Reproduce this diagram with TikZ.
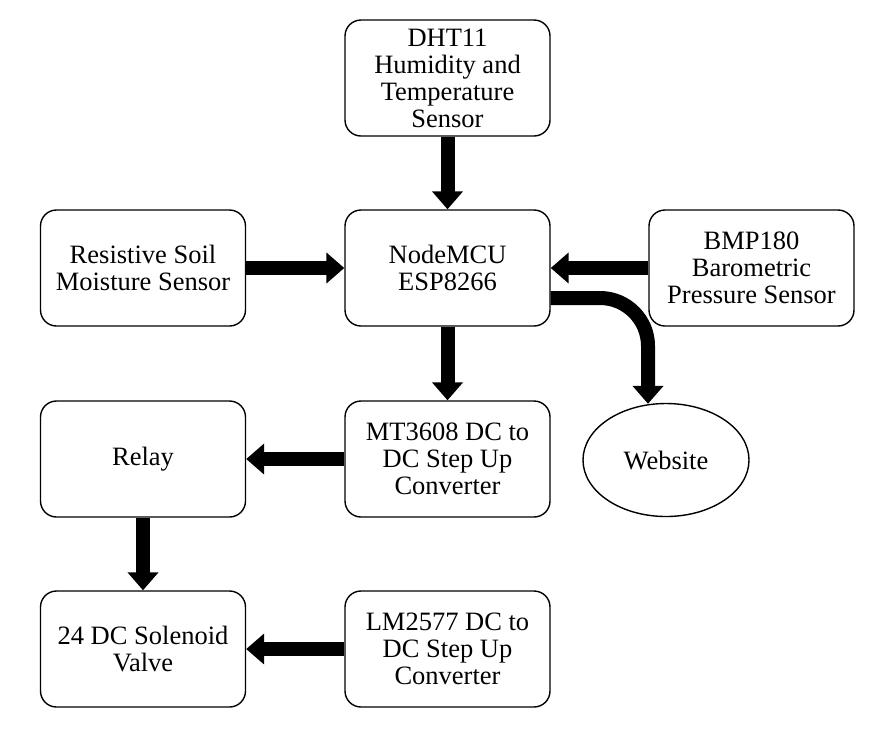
\documentclass[tikz,border=0pt]{standalone}
\usepackage{fontspec}
\setmainfont{Liberation Serif}
\usetikzlibrary{arrows.meta,shapes.geometric}
\begin{document}
\begin{tikzpicture}[x=1pt,y=-1pt,
  blk/.style={draw,line width=1.4pt,rounded corners=16pt,minimum width=205pt,minimum height=116pt,inner sep=0pt,align=center,font=\fontsize{26.5}{27}\selectfont},
  oval/.style={draw,line width=1.4pt,ellipse,minimum width=166pt,minimum height=113pt,inner sep=0pt,align=center,font=\fontsize{26.5}{27}\selectfont},
  arr/.style={line width=14pt,-{Triangle[width=30pt,length=18pt]}}]
\useasboundingbox (0,0) rectangle (874,748);
\fill[white] (0,0) rectangle (874,748);
\node[blk] (dht) at (447.5,78) {DHT11\\Humidity and\\Temperature\\Sensor};
\node[blk] (mcu) at (447.5,268) {NodeMCU\\ESP8266};
\node[blk] (soil) at (143,268) {Resistive Soil\\Moisture Sensor};
\node[blk] (bmp) at (751.5,268) {BMP180\\Barometric\\Pressure Sensor};
\node[blk] (mt) at (447.5,459) {MT3608 DC to\\DC Step Up\\Converter};
\node[blk] (relay) at (143,459) {Relay};
\node[blk] (valve) at (143,649) {24 DC Solenoid\\Valve};
\node[blk] (lm) at (447.5,649) {LM2577 DC to\\DC Step Up\\Converter};
\node[oval] (web) at (666,460) {Website};
\draw[arr] (dht.south) -- (mcu.north);
\draw[arr] (soil.east) -- (mcu.west);
\draw[arr] (bmp.west) -- (mcu.east);
\draw[arr] (mcu.south) -- (mt.north);
\draw[arr] (mt.west) -- (relay.east);
\draw[arr] (relay.south) -- (valve.north);
\draw[arr] (lm.west) -- (valve.east);
\coordinate (cs) at ([yshift=-30pt]mcu.east);
\coordinate (ct) at ([xshift=-18pt,yshift=-1pt]web.north);
\draw[arr] (cs) -- (600,298) .. controls (626.5,298) and (648,319.5) .. (648,346) -- (ct);
\end{tikzpicture}
\end{document}
